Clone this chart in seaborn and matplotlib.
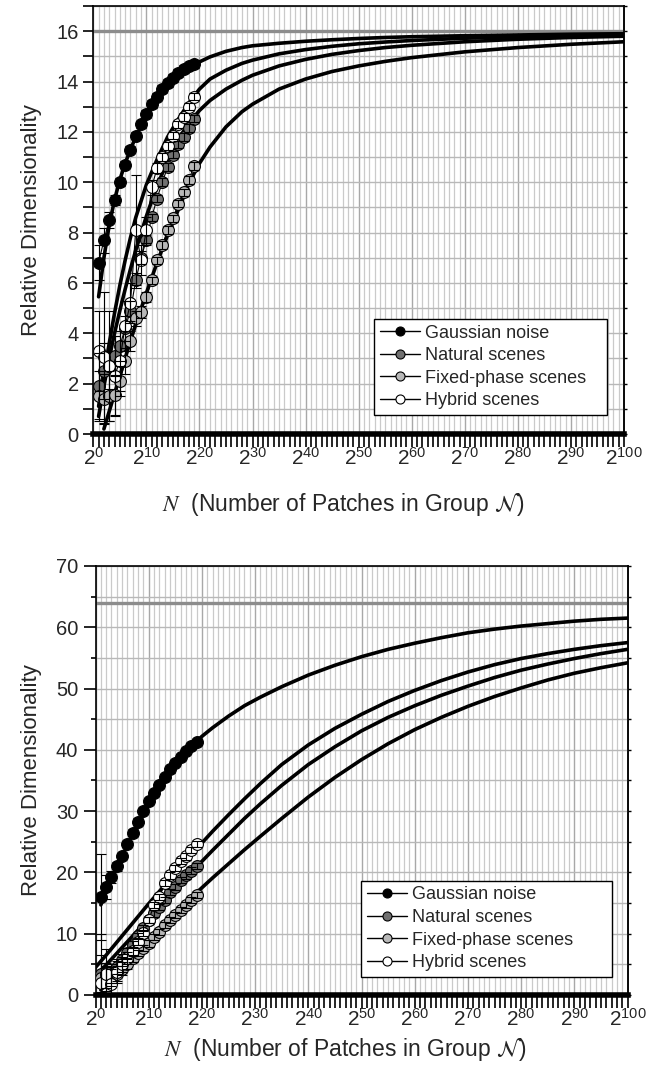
import numpy as np
import pandas as pd
import matplotlib
matplotlib.use("Agg")
import matplotlib.pyplot as plt
import seaborn as sns
from matplotlib.lines import Line2D
from matplotlib.ticker import MultipleLocator

# ---------------- data ----------------
series_names = ["Gaussian noise", "Natural scenes", "Fixed-phase scenes", "Hybrid scenes"]
face_colors = ["#000000", "#707070", "#b8b8b8", "#ffffff"]

point_exp = list(range(1, 20))          # log2 N of the measured groups

# top panel (4x4 patches, max 16)
top_gauss = [6.8, 7.7, 8.5, 9.3, 10.0, 10.7, 11.3, 11.85, 12.3, 12.7, 13.1, 13.4, 13.7, 13.95, 14.15, 14.35, 14.5, 14.6, 14.68]
top_natural = [1.9, 2.5, 2.7, 3.1, 3.5, 4.2, 4.9, 6.1, 7.0, 7.7, 8.6, 9.35, 10.0, 10.6, 11.1, 11.5, 11.8, 12.15, 12.53]
top_fixed = [1.5, 1.4, 1.5, 1.55, 2.1, 2.9, 3.7, 4.6, 4.85, 5.45, 6.1, 6.9, 7.5, 8.1, 8.56, 9.15, 9.6, 10.1, 10.65]
top_hybrid = [3.3, 3.05, 2.7, 2.3, 2.9, 4.3, 5.2, 8.1, 6.9, 8.1, 9.8, 10.55, 11.0, 11.45, 11.85, 12.3, 12.6, 13.0, 13.4]
top_gauss_err = [0.7, 0.5, 0.3, 0.2, 0.15, 0.15, 0.15, 0.15, 0.15, 0.15, 0.15, 0.15, 0.15, 0.15, 0.15, 0.15, 0.15, 0.15, 0.15]
top_natural_err = [1.3, 1.1, 0.9, 0.8, 0.6, 0.5, 0.4, 0.3, 0.25, 0.2, 0.15, 0.15, 0.15, 0.15, 0.15, 0.15, 0.15, 0.15, 0.15]
top_fixed_err = [1.0, 1.0, 1.0, 0.8, 0.6, 0.5, 0.4, 0.3, 0.25, 0.2, 0.15, 0.15, 0.15, 0.15, 0.15, 0.15, 0.15, 0.15, 0.15]
top_hybrid_err = [1.6, 2.6, 2.2, 1.6, 1.2, 1.0, 0.8, 2.2, 0.6, 0.5, 0.3, 0.2, 0.15, 0.15, 0.15, 0.15, 0.15, 0.15, 0.15]

top_fit_exp = [1, 2, 3, 4, 5, 6, 7, 8, 10, 12, 14, 16, 18, 20, 22, 25, 28, 30, 35, 40, 45, 50, 55, 60, 70, 80, 90, 100]
top_fit_gauss = [5.45, 7.0, 8.3, 9.3, 10.1, 10.75, 11.3, 11.8, 12.65, 13.3, 13.8, 14.2, 14.5, 14.78, 14.98, 15.2, 15.35, 15.42, 15.52, 15.6, 15.66, 15.71, 15.75, 15.78, 15.82, 15.85, 15.88, 15.9]
top_fit_hybrid = [1.1, 2.4, 3.6, 4.8, 5.9, 6.9, 7.8, 8.6, 9.9, 10.9, 11.8, 12.5, 13.15, 13.7, 14.1, 14.45, 14.72, 14.85, 15.1, 15.27, 15.4, 15.5, 15.57, 15.63, 15.72, 15.78, 15.83, 15.86]
top_fit_natural = [0.7, 1.9, 3.0, 4.0, 4.9, 5.75, 6.55, 7.3, 8.65, 9.85, 10.85, 11.7, 12.35, 12.85, 13.25, 13.7, 14.05, 14.25, 14.62, 14.88, 15.08, 15.23, 15.35, 15.44, 15.58, 15.68, 15.75, 15.8]
top_fit_fixed = [np.nan, 0.2, 0.9, 1.6, 2.3, 3.0, 3.7, 4.35, 5.6, 6.8, 7.9, 8.9, 9.95, 10.75, 11.4, 12.2, 12.8, 13.1, 13.7, 14.1, 14.4, 14.62, 14.8, 14.95, 15.18, 15.35, 15.48, 15.58]

# bottom panel (8x8 patches, max 64)
bot_gauss = [16.0, 17.6, 19.3, 21.0, 22.7, 24.6, 26.5, 28.3, 30.0, 31.6, 33.0, 34.3, 35.6, 36.8, 37.9, 38.9, 39.8, 40.6, 41.3]
bot_natural = [3.5, 3.2, 3.5, 4.6, 5.7, 6.8, 8.2, 9.6, 10.9, 12.2, 13.3, 14.4, 15.5, 16.8, 17.6, 18.7, 19.5, 20.3, 21.0]
bot_fixed = [2.7, 2.7, 3.0, 3.5, 4.3, 5.1, 6.0, 6.8, 7.6, 8.4, 9.5, 10.3, 11.4, 12.2, 13.0, 13.9, 14.7, 15.5, 16.3]
bot_hybrid = [1.9, 3.5, 1.8, 3.8, 5.0, 6.0, 7.1, 8.7, 10.1, 12.2, 14.7, 16.0, 18.2, 19.5, 20.7, 21.8, 22.6, 23.7, 24.7]
bot_gauss_err = [7.0, 2.0, 1.0, 0.7, 0.5, 0.5, 0.5, 0.5, 0.5, 0.5, 0.5, 0.5, 0.5, 0.5, 0.5, 0.5, 0.5, 0.5, 0.5]
bot_natural_err = [3.0, 2.0, 1.5, 1.2, 1.0, 0.8, 0.6, 0.5, 0.5, 0.5, 0.5, 0.5, 0.5, 0.5, 0.5, 0.5, 0.5, 0.5, 0.5]
bot_fixed_err = [2.5, 2.0, 1.5, 1.2, 1.0, 0.8, 0.6, 0.5, 0.5, 0.5, 0.5, 0.5, 0.5, 0.5, 0.5, 0.5, 0.5, 0.5, 0.5]
bot_hybrid_err = [8.0, 4.0, 2.5, 1.8, 1.2, 1.0, 0.8, 0.6, 0.5, 0.5, 0.5, 0.5, 0.5, 0.5, 0.5, 0.5, 0.5, 0.5, 0.5]

bot_fit_exp = [0, 1, 2, 4, 6, 8, 10, 12, 14, 16, 18, 20, 22, 25, 28, 31, 35, 40, 45, 50, 55, 60, 65, 70, 75, 80, 85, 90, 95, 100]
bot_fit_gauss = [np.nan, 14.7, 16.9, 20.8, 24.5, 28.0, 31.2, 34.0, 36.4, 38.6, 40.5, 42.2, 43.6, 45.5, 47.2, 48.6, 50.3, 52.2, 53.8, 55.2, 56.4, 57.4, 58.3, 59.1, 59.7, 60.2, 60.6, 61.0, 61.3, 61.5]
bot_fit_hybrid = [4.5, 5.5, 6.5, 8.6, 10.7, 12.8, 14.9, 16.9, 18.9, 20.9, 22.9, 24.8, 26.7, 29.4, 32.0, 34.5, 37.6, 40.8, 43.5, 45.8, 47.9, 49.7, 51.3, 52.7, 53.9, 54.9, 55.7, 56.4, 57.0, 57.5]
bot_fit_natural = [3.0, 4.0, 4.9, 6.8, 8.7, 10.6, 12.5, 14.4, 16.3, 18.2, 20.0, 21.8, 23.6, 26.2, 28.8, 31.2, 34.2, 37.6, 40.5, 43.1, 45.3, 47.2, 48.9, 50.4, 51.8, 53.0, 54.0, 54.9, 55.7, 56.4]
bot_fit_fixed = [np.nan, 0.8, 2.0, 4.0, 5.8, 7.6, 9.3, 11.0, 12.7, 14.3, 15.9, 17.5, 19.1, 21.4, 23.7, 25.9, 28.8, 32.3, 35.5, 38.4, 41.0, 43.3, 45.3, 47.1, 48.7, 50.1, 51.4, 52.5, 53.4, 54.2]

x_tick_exps = list(range(0, 101, 10))
x_tick_labels = [r"$\mathregular{2^{%d}}$" % e for e in x_tick_exps]
top_max, bot_max = 16, 64
xlabel_text = r"$N$  (Number of Patches in Group $\mathcal{N}$)"
ylabel_text = "Relative Dimensionality"

# ---------------- style ----------------
sns.set_theme(style="white")
plt.rcParams["font.family"] = ["Liberation Sans", "DejaVu Sans"]
plt.rcParams["mathtext.fontset"] = "custom"
plt.rcParams["mathtext.rm"] = "Liberation Sans"

fig = plt.figure(figsize=(6.52, 10.74), dpi=100)
ax_top = fig.add_axes([0.1431, 0.5959, 0.8140, 0.3985])
ax_bot = fig.add_axes([0.1465, 0.0736, 0.8160, 0.3994])


def draw_panel(ax, pts, errs, fit_exp, fits, dmax, ylim, ymaj, ymin,
               major_len, minor_len, legend_box, xlabelpad):
    # fitted curves
    for fy in fits:
        df = pd.DataFrame({"e": fit_exp, "v": fy}).dropna()
        sns.lineplot(data=df, x="e", y="v", ax=ax, color="black", lw=2.6,
                     estimator=None, sort=False, zorder=3)
    # asymptote
    ax.axhline(dmax, color="#8c8c8c", lw=2.4, zorder=2)
    # measured points
    for ys, es, fc in zip(pts, errs, face_colors):
        df = pd.DataFrame({"e": point_exp, "v": ys})
        sns.lineplot(data=df, x="e", y="v", ax=ax, color="black", lw=0.8,
                     marker="o", markersize=8.5, markerfacecolor=fc,
                     markeredgecolor="black", markeredgewidth=0.8,
                     estimator=None, sort=False, zorder=4)
        ax.errorbar(point_exp, ys, yerr=es, fmt="none", ecolor="black",
                    elinewidth=0.8, capsize=3.6, capthick=0.8, zorder=5)

    ax.set_xlim(0, 100)
    ax.set_ylim(*ylim)
    ax.xaxis.set_major_locator(MultipleLocator(10))
    ax.xaxis.set_minor_locator(MultipleLocator(1))
    ax.set_xticks(x_tick_exps)
    ax.set_xticklabels(x_tick_labels)
    ax.yaxis.set_major_locator(MultipleLocator(ymaj))
    ax.yaxis.set_minor_locator(MultipleLocator(ymin))

    ax.grid(which="major", axis="x", color="#a8a8a8", lw=1.0, zorder=0)
    ax.grid(which="minor", axis="x", color="#cacaca", lw=0.9, zorder=0)
    ax.grid(which="both", axis="y", color="#b8b8b8", lw=1.0, zorder=0)
    ax.set_axisbelow(True)

    for s in ["left", "right", "top"]:
        ax.spines[s].set_visible(True)
        ax.spines[s].set_color("black")
        ax.spines[s].set_linewidth(1.2)
    ax.spines["bottom"].set_visible(True)
    ax.spines["bottom"].set_color("black")
    ax.spines["bottom"].set_linewidth(4.0)

    ax.tick_params(axis="x", which="both", bottom=True, top=False, direction="out",
                   color="black", width=1.2, labelsize=15, pad=0.5)
    ax.tick_params(axis="x", which="both", length=9)
    ax.tick_params(axis="y", which="both", left=True, right=False, direction="out",
                   color="black", width=1.2, labelsize=14.5)
    ax.tick_params(axis="y", which="major", length=major_len)
    ax.tick_params(axis="y", which="minor", length=minor_len)

    # short outward ticks on the right edge
    sec = ax.secondary_yaxis("right")
    sec.yaxis.set_major_locator(MultipleLocator(ymin))
    sec.tick_params(axis="y", which="both", direction="out", length=2.5,
                    width=1.0, color="black", labelright=False)
    sec.spines["right"].set_linewidth(1.2)

    ax.set_xlabel(xlabel_text, fontsize=16.5, labelpad=xlabelpad, math_fontfamily="stix")
    ax.xaxis.label.set_x(0.47)
    ax.set_ylabel(ylabel_text, fontsize=16, labelpad=10)

    handles = [Line2D([0], [0], color="black", lw=1.0, marker="o", markersize=6.5,
                      markerfacecolor=fc, markeredgecolor="black", markeredgewidth=0.8)
               for fc in face_colors]
    leg = ax.legend(handles, series_names, loc="lower left", bbox_to_anchor=legend_box,
                    mode="expand", fontsize=13, frameon=True, fancybox=False,
                    framealpha=1, edgecolor="black", handlelength=2.2,
                    handletextpad=0.28, labelspacing=0.31, borderpad=0.32,
                    borderaxespad=0)
    leg.get_frame().set_linewidth(1.0)
    leg.set_zorder(10)


draw_panel(ax_top, [top_gauss, top_natural, top_fixed, top_hybrid],
           [top_gauss_err, top_natural_err, top_fixed_err, top_hybrid_err],
           top_fit_exp, [top_fit_gauss, top_fit_hybrid, top_fit_natural, top_fit_fixed],
           top_max, (0, 17), 2, 1, 7, 7, (0.529, 0.044, 0.439, 0.2), 16)
draw_panel(ax_bot, [bot_gauss, bot_natural, bot_fixed, bot_hybrid],
           [bot_gauss_err, bot_natural_err, bot_fixed_err, bot_hybrid_err],
           bot_fit_exp, [bot_fit_gauss, bot_fit_hybrid, bot_fit_natural, bot_fit_fixed],
           bot_max, (0, 70), 10, 5, 9, 3.5, (0.499, 0.042, 0.472, 0.2), 4)

fig.savefig("out.png", dpi=100)
